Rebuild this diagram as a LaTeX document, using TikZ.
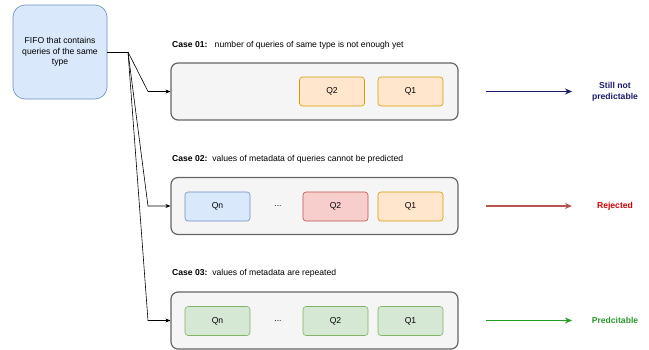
\documentclass[tikz,border=0pt]{standalone}
\usepackage{fontspec}
\setmainfont{Liberation Sans}
\usetikzlibrary{arrows.meta}
\definecolor{fifofill}{HTML}{DAE8FC}
\definecolor{fifoline}{HTML}{6C8EBF}
\definecolor{casefill}{HTML}{F5F5F5}
\definecolor{caseline}{HTML}{666666}
\definecolor{orfill}{HTML}{FFE6CC}
\definecolor{orline}{HTML}{D79B00}
\definecolor{rdfill}{HTML}{F8CECC}
\definecolor{rdline}{HTML}{B85450}
\definecolor{grfill}{HTML}{D5E8D4}
\definecolor{grline}{HTML}{82B366}
\definecolor{navy}{HTML}{1A1A6E}
\definecolor{redtxt}{HTML}{CC0000}
\definecolor{grarrow}{HTML}{1E9E1E}
\definecolor{grtxt}{HTML}{2A9A2A}
\begin{document}
\begin{tikzpicture}[x=1pt,y=-1pt,
  every node/.style={font=\fontsize{8.6}{10.5}\selectfont, inner sep=0pt},
  fifo/.style={draw=fifoline, fill=fifofill, rounded corners=12pt, line width=0.6pt, minimum width=94pt, minimum height=94pt, align=center},
  casebox/.style={draw=caseline, fill=casefill, rounded corners=7pt, line width=1.2pt, minimum width=287pt, minimum height=57pt},
  qbox/.style={rounded corners=3pt, line width=0.6pt, minimum width=65pt, minimum height=29pt},
  qor/.style={qbox, draw=orline, fill=orfill},
  qrd/.style={qbox, draw=rdline, fill=rdfill},
  qbl/.style={qbox, draw=fifoline, fill=fifofill},
  qgr/.style={qbox, draw=grline, fill=grfill},
  conn/.style={draw=black, line width=0.6pt, -{Stealth[length=5pt,width=4pt]}},
  res/.style={line width=1.5pt, -{Stealth[length=7pt,width=6pt]}},
  lbl/.style={anchor=west},
  rlbl/.style={font=\fontsize{8.6}{10.8}\selectfont\bfseries, align=center}
]
\useasboundingbox (0,0) rectangle (649,349);

\node[fifo] (fifo) at (60,52) {FIFO that contains\\queries of the same\\type};
\coordinate (split) at (128,52);

% case boxes
\node[casebox] (c1) at (314.5,91.5) {};
\node[casebox] (c2) at (314.5,206) {};
\node[casebox] (c3) at (314.5,320.5) {};

% case labels
\node[lbl] (l1) at (172,45) {\textbf{Case 01:}\ \ \ number of queries of same type is not enough yet};
\node[lbl] (l2) at (172,159) {\textbf{Case 02:}\ \ values of metadata of queries cannot be predicted};
\node[lbl] (l3) at (172,273) {\textbf{Case 03:}\ \ values of metadata are repeated};

% case 1 queries
\node[qor] (c1q2) at (332,91.5) {Q2};
\node[qor] (c1q1) at (410.5,91.5) {Q1};

% case 2 queries
\node[qbl] (c2qn) at (217.5,206.5) {Qn};
\node (c2dots) at (278,206.5) {...};
\node[qrd] (c2q2) at (335.5,206.5) {Q2};
\node[qor] (c2q1) at (410.5,206.5) {Q1};

% case 3 queries
\node[qgr] (c3qn) at (217.5,321) {Qn};
\node (c3dots) at (278,321) {...};
\node[qgr] (c3q2) at (335.5,321) {Q2};
\node[qgr] (c3q1) at (410.5,321) {Q1};

% connectors
\draw[line width=0.6pt] (fifo.east) -- (split);
\coordinate (b1) at (148,91.5);
\coordinate (b2) at (148,206);
\coordinate (b3) at (148,320.5);
\draw[conn] (split) -- (b1) -- (c1.west);
\draw[conn] (split) -- (b2) -- (c2.west);
\draw[conn] (split) -- (b3) -- (c3.west);

% results
\coordinate (a1s) at (486,91.5);
\coordinate (a1e) at (572,91.5);
\coordinate (a2s) at (486,206);
\coordinate (a2e) at (572,206);
\coordinate (a3s) at (486,320.5);
\coordinate (a3e) at (572,320.5);
\draw[res, navy] (a1s) -- (a1e);
\draw[res, rdline] (a2s) -- (a2e);
\draw[res, grarrow] (a3s) -- (a3e);

\node[rlbl, text=navy] (r1) at (615,91.5) {Still not\\predictable};
\node[rlbl, text=redtxt] (r2) at (615,206) {Rejected};
\node[rlbl, text=grtxt] (r3) at (615,320.5) {Predcitable};
\end{tikzpicture}
\end{document}
